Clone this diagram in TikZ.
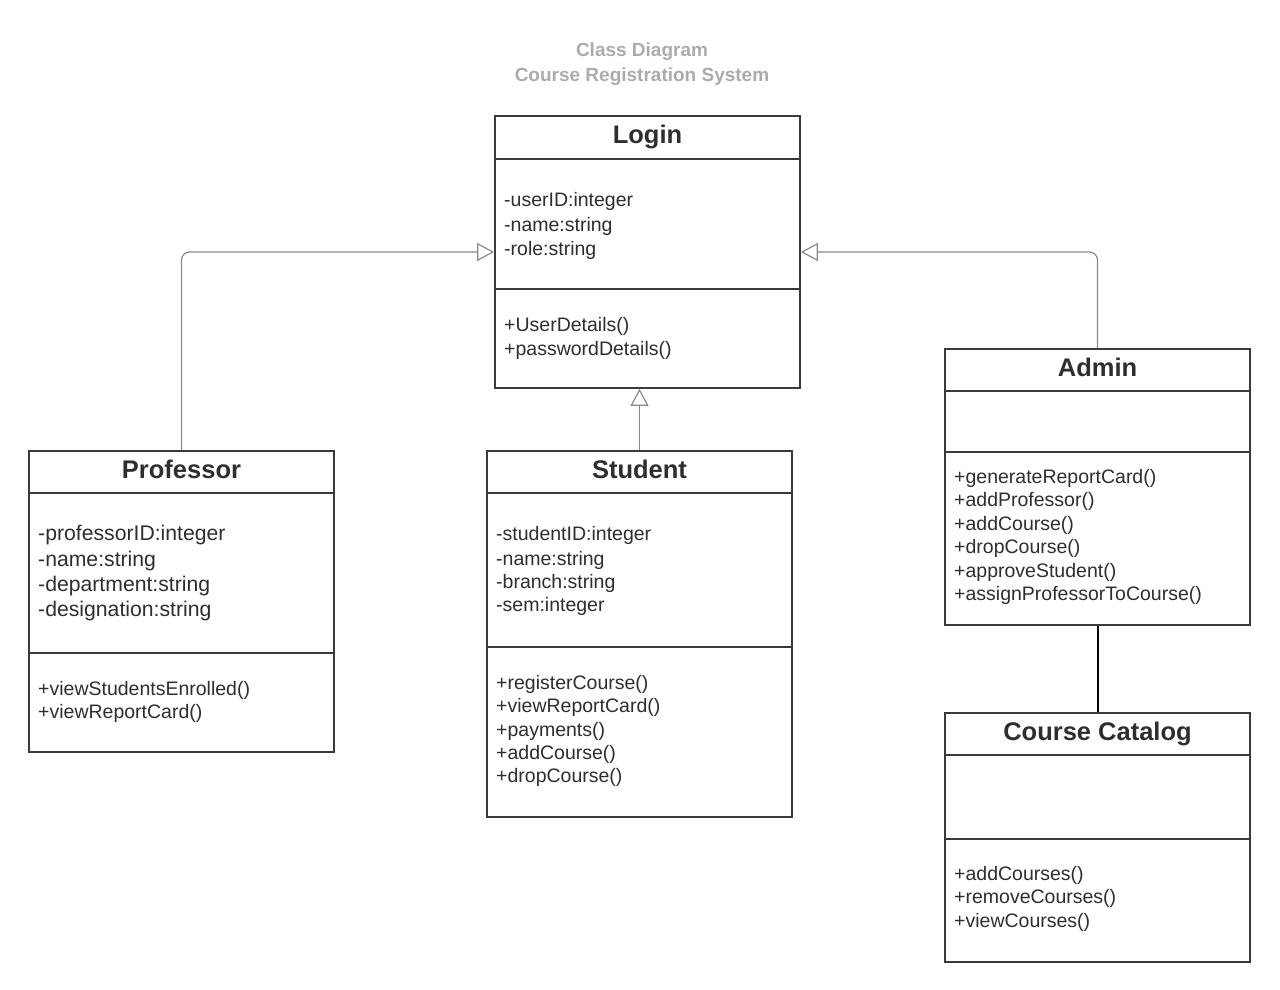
\documentclass[tikz,border=0pt]{standalone}
\usepackage{fontspec}
\setmainfont{Liberation Sans}
\usetikzlibrary{arrows.meta}
\definecolor{ink}{HTML}{2E2E2E}
\definecolor{edge}{HTML}{3A3A3A}
\definecolor{conn}{HTML}{8A8A8A}
\definecolor{ttl}{HTML}{A8ACB2}
\begin{document}
\begin{tikzpicture}[x=1pt,y=-1pt,
  box/.style={draw=edge, line width=1.7pt, fill=white, inner sep=0pt},
  divline/.style={draw=edge, line width=1.7pt},
  cname/.style={font=\fontsize{25.5}{30}\selectfont\bfseries, text=ink, anchor=base, inner sep=0pt},
  item/.style={font=\fontsize{19.5}{23}\selectfont, text=ink, anchor=base west, inner sep=0pt},
  bigitem/.style={font=\fontsize{21.2}{25}\selectfont, text=ink, anchor=base west, inner sep=0pt},
  heading/.style={font=\fontsize{19}{23}\selectfont\bfseries, text=ttl, anchor=base, inner sep=0pt},
  gen/.style={draw=conn, line width=1.2pt, rounded corners=8pt, -{Triangle[open, length=17pt, width=18pt, line width=1.2pt]}},
  assoc/.style={draw=black, line width=2pt}
]
\useasboundingbox (0,0) rectangle (1280,989);

% title
\node[heading] (t1) at (642,56) {Class Diagram};
\node[heading] (t2) at (642,81) {Course Registration System};

% boxes
\node[box, minimum width=305pt, minimum height=272pt] (login) at (647.5,252) {};
\node[box, minimum width=305pt, minimum height=301pt] (prof) at (181.5,601.5) {};
\node[box, minimum width=305pt, minimum height=366pt] (stud) at (639.5,634) {};
\node[box, minimum width=305pt, minimum height=276pt] (admin) at (1097.5,487) {};
\node[box, minimum width=305pt, minimum height=249pt] (cat) at (1097.5,837.5) {};

% dividers
\draw[divline] (495,159) -- (800,159);
\draw[divline] (495,289) -- (800,289);
\draw[divline] (29,493) -- (334,493);
\draw[divline] (29,653) -- (334,653);
\draw[divline] (487,493) -- (792,493);
\draw[divline] (487,647) -- (792,647);
\draw[divline] (945,391) -- (1250,391);
\draw[divline] (945,452) -- (1250,452);
\draw[divline] (945,755) -- (1250,755);
\draw[divline] (945,839) -- (1250,839);

% Login
\node[cname] (lname) at (647.5,143) {Login};
\node[item] (la1) at (504,206) {-userID:integer};
\node[item] (la2) at (504,231) {-name:string};
\node[item] (la3) at (504,255) {-role:string};
\node[item] (lm1) at (504,331.5) {+UserDetails()};
\node[item] (lm2) at (504,355) {+passwordDetails()};

% Professor
\node[cname] (pname) at (181.5,478) {Professor};
\node[bigitem] (pa1) at (38,540) {-professorID:integer};
\node[bigitem] (pa2) at (38,566) {-name:string};
\node[bigitem] (pa3) at (38,591) {-department:string};
\node[bigitem] (pa4) at (38,616) {-designation:string};
\node[item] (pm1) at (38,695) {+viewStudentsEnrolled()};
\node[item] (pm2) at (38,718.5) {+viewReportCard()};

% Student
\node[cname] (sname) at (639.5,478) {Student};
\node[item] (sa1) at (496,540) {-studentID:integer};
\node[item] (sa2) at (496,565) {-name:string};
\node[item] (sa3) at (496,588.3) {-branch:string};
\node[item] (sa4) at (496,611.7) {-sem:integer};
\node[item] (sm1) at (496,689.3) {+registerCourse()};
\node[item] (sm2) at (496,712.7) {+viewReportCard()};
\node[item] (sm3) at (496,736) {+payments()};
\node[item] (sm4) at (496,759.3) {+addCourse()};
\node[item] (sm5) at (496,782.7) {+dropCourse()};

% Admin
\node[cname] (aname) at (1097.5,376) {Admin};
\node[item] (am1) at (954,483) {+generateReportCard()};
\node[item] (am2) at (954,506.5) {+addProfessor()};
\node[item] (am3) at (954,530) {+addCourse()};
\node[item] (am4) at (954,553.5) {+dropCourse()};
\node[item] (am5) at (954,577) {+approveStudent()};
\node[item] (am6) at (954,600.5) {+assignProfessorToCourse()};

% Course Catalog
\node[cname] (cname) at (1097.5,740) {Course Catalog};
\node[item] (cm1) at (954,880) {+addCourses()};
\node[item] (cm2) at (954,903.5) {+removeCourses()};
\node[item] (cm3) at (954,927) {+viewCourses()};

% connectors
\draw[gen] (prof.north) |- (login.west);
\draw[gen] (admin.north) |- (login.east);
\draw[gen] (stud.north) -- (stud.north |- login.south);
\draw[assoc] (admin.south) -- (cat.north);
\end{tikzpicture}
\end{document}
